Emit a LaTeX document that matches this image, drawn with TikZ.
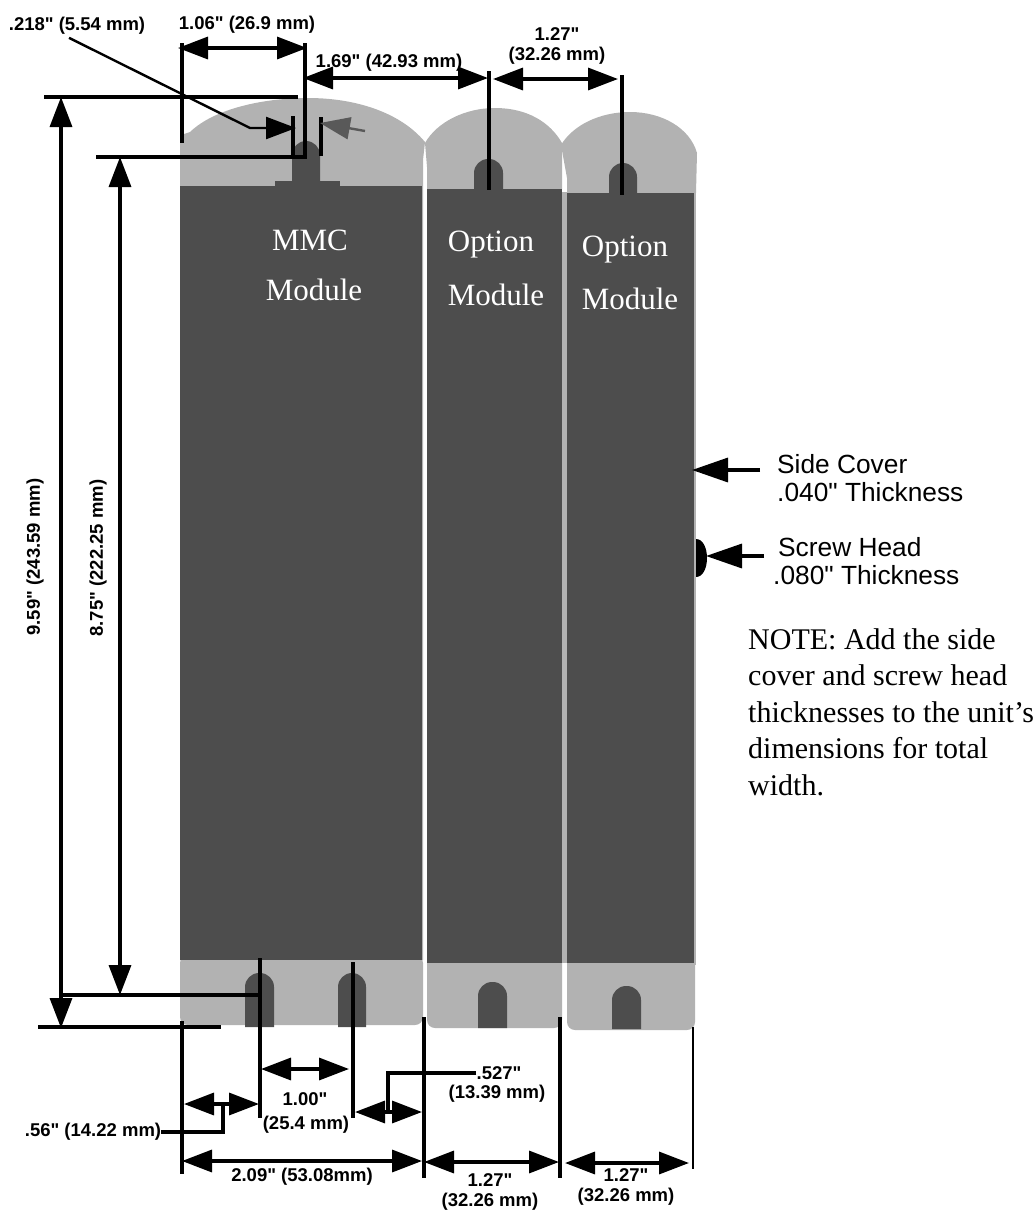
\documentclass[tikz,border=0pt]{standalone}
\usepackage{fontspec}
\setmainfont{Liberation Serif}
\newfontfamily\dimfont{Liberation Sans}
\usetikzlibrary{arrows.meta}
\definecolor{lightmod}{HTML}{B2B2B2}
\definecolor{darkmod} {HTML}{4D4D4D}
\definecolor{greytip} {HTML}{595959}
\tikzset{
bigtip/.tip={Triangle[length=30pt,width=22pt]},
dimline/.style={line width=3.4pt},
dimarrow/.style={line width=3.4pt,{bigtip}-{bigtip}},
dimlabel/.style={font=\dimfont\bfseries\fontsize{18.5}{20}\selectfont,inner sep=0pt,align=center},
sidelabel/.style={font=\dimfont\fontsize{26.3}{28}\selectfont,inner sep=0pt,anchor=west},
modlabel/.style={font=\fontsize{31}{36}\selectfont,text=white,inner sep=0pt},
}
\begin{document}
\begin{tikzpicture}[x=1pt,y=-1pt]
\useasboundingbox (0,0) rectangle (1033,1211);
% tops of the modules
\fill[lightmod] (180,960) -- (180,145) -- (181,135) -- (190,132) .. controls (215,108) and (265,98) .. (308,98)
    .. controls (355,98) and (400,112) .. (425,142) -- (423,160) -- (423,960) -- cycle;
\fill[lightmod] (427,189) -- (427,167) -- (425,143) .. controls (437,122) and (465,108) .. (495,108)
    .. controls (527,108) and (550,122) .. (562,143) -- (562,189) -- cycle;
\fill[lightmod] (567,193) -- (567,178) -- (561,145) .. controls (573,125) and (600,112) .. (630,112)
    .. controls (662,112) and (690,128) .. (697,153) -- (696,193) -- cycle;
\fill[lightmod] (562,192) rectangle (567,963);
\fill[lightmod] (694,190) rectangle (696,965);
% bottoms of the modules
\fill[lightmod,rounded corners=8pt] (180,955) -- (180,1025) -- (423,1025) -- (423,955) -- cycle;
\fill[lightmod,rounded corners=8pt] (427,955) -- (427,1028) -- (562,1028) -- (562,955) -- cycle;
\fill[lightmod,rounded corners=8pt] (567,955) -- (567,1030) -- (695,1030) -- (695,955) -- cycle;
% bodies
\fill[darkmod] (180,186) rectangle (421.5,960);
\fill[darkmod] (427,189) rectangle (562,963);
\fill[darkmod] (567,193) rectangle (694,963);
\fill[darkmod] (275,181) rectangle (340,187);
% slots
\foreach \xa/\xb/\ya/\yb in {292/320/141/182, 474/503/159/190, 609/637/163/194,
    245/274/973/1027, 338/366/973/1027, 478/507/982/1028, 612/641/986/1029}
    \fill[darkmod] (\xa,\yb) [rounded corners=14pt] -- (\xa,\ya) -- (\xb,\ya) [sharp corners] -- (\xb,\yb) -- cycle;
% screw head
\fill[black] (696,539) .. controls (703,539) and (707,548) .. (707,558)
    .. controls (707,568) and (703,577) .. (696,577) -- cycle;
% module names
\node[modlabel] (mmcname) at (310,240) {MMC};
\node[modlabel] (mmcmod) at (314,290) {Module};
\node[modlabel] (optnamea) at (491,245) {Option};
\node[modlabel] (optmoda) at (496,295) {Module};
\node[modlabel] (optnameb) at (625,250) {Option};
\node[modlabel] (optmodb) at (630,299) {Module};
% extension lines
\draw[dimline] (44,97) -- (298,97);
\draw[dimline] (96,157) -- (305,157) -- (305,43);
\draw[dimline] (182,43) -- (182,143);
\draw[dimline] (489,71) -- (489,190);
\draw[dimline] (622,75) -- (622,195);
\draw[dimline] (293,116) -- (293,155);
\draw[dimline] (321,117) -- (321,156);
\draw[dimline] (38,1027) -- (221,1027);
\draw[dimline] (59,995) -- (258,995);
\draw[dimline] (182,1021) -- (182,1174);
\draw[dimline] (260,958) -- (260,1118);
\draw[dimline] (353,962) -- (353,1118);
\draw[dimline] (424,1017) -- (424,1178);
\draw[dimline] (560,1017) -- (560,1178);
\draw[line width=2.6pt] (693,1027) -- (693,1169);
% dimension arrows
\draw[dimarrow] (178,48) -- (307,48);
\draw[dimarrow] (303,78) -- (488,78);
\draw[dimarrow] (493,79) -- (618,79);
\draw[dimarrow] (61,97) -- (61,1028);
\draw[dimarrow] (120,157) -- (120,995);
\draw[dimarrow] (261,1069) -- (349,1069);
\draw[dimarrow] (184,1104) -- (259,1104);
\draw[dimarrow] (355,1112) -- (422,1112);
\draw[dimarrow] (182,1161) -- (422,1161);
\draw[dimarrow] (424,1162) -- (559,1162);
\draw[dimarrow] (565,1163) -- (689,1163);
% dimension labels
\node[dimlabel] (lbltwo) at (77,26) {.218" (5.54 mm)};
\node[dimlabel] (lblone) at (247,25) {1.06" (26.9 mm)};
\node[dimlabel] (lblpitch) at (389,63) {1.69" (42.93 mm)};
\node[dimlabel] (lbltopa) at (557,46) {1.27"\\(32.26 mm)};
\node[dimlabel,rotate=90] (lblheight) at (35,557) {9.59" (243.59 mm)};
\node[dimlabel,rotate=90] (lblbody) at (98,558) {8.75" (222.25 mm)};
\node[dimlabel] (lblslot) at (305,1099) {1.00"};
\node[dimlabel] (lblslotmm) at (306,1125) {(25.4 mm)};
\node[dimlabel] (lblfive) at (499,1073) {.527"};
\node[dimlabel] (lblfivemm) at (497,1094) {(13.39 mm)};
\node[dimlabel] (lbledge) at (93,1132) {.56" (14.22 mm)};
\node[dimlabel] (lblwidth) at (302,1177) {2.09" (53.08mm)};
\node[dimlabel] (lblbota) at (490,1192) {1.27"\\(32.26 mm)};
\node[dimlabel] (lblbotb) at (626,1187) {1.27"\\(32.26 mm)};
% leaders
\draw[line width=2.4pt,-{bigtip}] ([xshift=-8pt,yshift=-3pt]lbltwo.south) -- (250,128) -- (296,128);
\draw[line width=2.4pt,greytip,-{bigtip}] (365,131) -- (320,123);
\draw[dimline] (lbledge.east) -| (223,1104);
\draw[dimline] (lblfive.west) -| (388,1112);
% side cover and screw head
\node[sidelabel] (sidecover) at (777,464) {Side Cover};
\node[sidelabel] (sidethick) at (777,492) {.040" Thickness};
\node[sidelabel] (screwhead) at (778,547) {Screw Head};
\node[sidelabel] (screwthick) at (773,575) {.080" Thickness};
\draw[line width=3.4pt,-{Triangle[length=36pt,width=24pt]}] (760,470) -- (692,470);
\draw[line width=3.4pt,-{Triangle[length=36pt,width=24pt]}] (764,556) -- (706,556);
% note
\node[font=\fontsize{30}{36.5}\selectfont,inner sep=0pt,anchor=north west,align=left] (note) at (748,628)
    {NOTE: Add the side\\cover and screw head\\thicknesses to the unit's\\dimensions for total\\width.};
\end{tikzpicture}
\end{document}
